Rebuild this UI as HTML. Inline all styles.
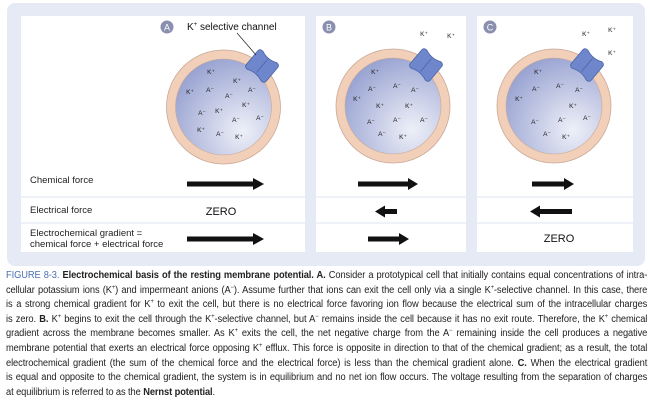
<!DOCTYPE html>
<html><head><meta charset="utf-8"><style>
html,body{margin:0;padding:0;background:#fff;}
body{width:650px;height:402px;position:relative;overflow:hidden;font-family:"Liberation Sans",sans-serif;}
.cap{position:absolute;left:6px;top:269px;width:675px;transform:scaleX(0.95);transform-origin:0 0;font-family:"Liberation Sans",sans-serif;font-size:9.8px;line-height:14.6px;color:#222;letter-spacing:-0.1px}
.cap div{white-space:nowrap;text-align:justify;text-align-last:justify;height:14.6px}
.cap div.l{text-align-last:left}
.cap .fig{color:#4a6fb0}
.cap sup{font-size:6px;line-height:0;vertical-align:4px}
</style></head><body>
<svg width="650" height="270" style="position:absolute;left:0;top:0" font-family="Liberation Sans, sans-serif">
<defs>
<radialGradient id="g" cx="0.7" cy="0.75" r="0.8">
<stop offset="0" stop-color="#eef0f8"/><stop offset="1" stop-color="#9aa4d2"/></radialGradient>
<g id="ch">
<path d="M-13,-9 Q-13,-12 -9,-12 Q0,-8 9,-12 Q13,-12 13,-9 L13,9 Q13,12 9,12 Q0,8 -9,12 Q-13,12 -13,9 Z" fill="#6d86cc" stroke="#4d64a8" stroke-width="0.8"/>
<path d="M0,-8.5 L0,8.5" stroke="#4d64a8" stroke-width="0.8"/>
</g>
</defs>
<rect x="7" y="3" width="638" height="263" rx="8" fill="#e6eaf5"/>
<rect x="21" y="16" width="284" height="236" fill="#fff"/>
<rect x="316" y="16" width="150" height="236" fill="#fff"/>
<rect x="477" y="16" width="156" height="236" fill="#fff"/>
<g stroke="#e6eaf5" stroke-width="1.2">
<line x1="21" y1="197" x2="633" y2="197"/><line x1="21" y1="223" x2="633" y2="223"/></g>
<g>
<circle cx="223.5" cy="107" r="57" fill="#f2cfb8" stroke="#c9a896" stroke-width="0.8"/>
<circle cx="223.5" cy="107" r="48" fill="url(#g)" stroke="#c9a896" stroke-width="0.6"/>
<circle cx="393" cy="106" r="57" fill="#f2cfb8" stroke="#c9a896" stroke-width="0.8"/>
<circle cx="393" cy="106" r="48" fill="url(#g)" stroke="#c9a896" stroke-width="0.6"/>
<circle cx="554" cy="106" r="57" fill="#f2cfb8" stroke="#c9a896" stroke-width="0.8"/>
<circle cx="554" cy="106" r="48" fill="url(#g)" stroke="#c9a896" stroke-width="0.6"/>
</g>
<use href="#ch" transform="translate(262,66) rotate(40)"/>
<use href="#ch" transform="translate(426,65) rotate(40)"/>
<use href="#ch" transform="translate(587,65) rotate(40)"/>
<line x1="237" y1="33" x2="256" y2="55" stroke="#222" stroke-width="0.7"/>
<text x="187" y="30" font-size="10" fill="#111">K<tspan font-size="6" dy="-4">+</tspan><tspan dy="4"> selective channel</tspan></text>
<g fill="#8a8fb0"><circle cx="167" cy="27" r="6.5"/><circle cx="329" cy="27" r="6.5"/><circle cx="490" cy="27" r="6.5"/></g>
<g fill="#fff" font-size="9" text-anchor="middle"><text x="167" y="30.5">A</text><text x="329" y="30.5">B</text><text x="490" y="30.5">C</text></g>
<g font-size="6.5" fill="#222" text-anchor="middle">
<text x="211" y="74">K⁺</text><text x="237" y="83">K⁺</text><text x="190" y="94">K⁺</text><text x="210" y="92">A⁻</text><text x="229" y="98">A⁻</text><text x="252" y="92">A⁻</text><text x="202" y="115">A⁻</text><text x="219" y="113">K⁺</text><text x="246" y="107">K⁺</text><text x="236" y="122">A⁻</text><text x="260" y="120">A⁻</text><text x="201" y="132">K⁺</text><text x="220" y="136">A⁻</text><text x="239" y="139">K⁺</text>
<text x="424" y="36">K⁺</text><text x="451" y="38">K⁺</text>
<text x="375" y="74">K⁺</text><text x="372" y="91">A⁻</text><text x="397" y="88">A⁻</text><text x="415" y="92">A⁻</text><text x="357" y="101">K⁺</text><text x="380" y="108">K⁺</text><text x="409" y="108">K⁺</text><text x="371" y="124">A⁻</text><text x="397" y="122">A⁻</text><text x="424" y="122">A⁻</text><text x="382" y="136">A⁻</text><text x="403" y="139">K⁺</text>
<text x="586" y="36">K⁺</text><text x="612" y="32">K⁺</text><text x="612" y="55">K⁺</text>
<text x="538" y="74">K⁺</text><text x="536" y="91">A⁻</text><text x="560" y="88">A⁻</text><text x="579" y="92">A⁻</text><text x="519" y="101">K⁺</text><text x="573" y="108">K⁺</text><text x="535" y="124">A⁻</text><text x="562" y="122">A⁻</text><text x="587" y="120">A⁻</text><text x="547" y="136">A⁻</text><text x="566" y="139">K⁺</text>
</g>
<g font-size="9.5" fill="#222">
<text x="30" y="183">Chemical force</text>
<text x="30" y="213">Electrical force</text>
<text x="30" y="236">Electrochemical gradient =</text>
<text x="30" y="247">chemical force + electrical force</text>
</g>
<g font-size="11" fill="#111" text-anchor="middle"><text x="221" y="215">ZERO</text><text x="559" y="242">ZERO</text></g>
<g fill="#111">
<path d="M187,181.5 H253 V178 L264,184 L253,190 V186.5 H187Z"/>
<path d="M187,236.5 H253 V233 L264,239 L253,245 V241.5 H187Z"/>
<path d="M358,181.5 H408 V178 L418,184 L408,190 V186.5 H358Z"/>
<path d="M397,209 H385 V205.5 L375,211.5 L385,217.5 V214 H397Z"/>
<path d="M368,236.5 H399 V233 L409,239 L399,245 V241.5 H368Z"/>
<path d="M532,181.5 H564 V178 L574,184 L564,190 V186.5 H532Z"/>
<path d="M572,209 H540 V205.5 L530,211.5 L540,217.5 V214 H572Z"/>
</g>
</svg>
<div class="cap">
<div><span class="fig">FIGURE 8-3.</span> <b>Electrochemical basis of the resting membrane potential. A.</b> Consider a prototypical cell that initially contains equal concentrations of intra-</div>
<div>cellular potassium ions (K<sup>+</sup>) and impermeant anions (A<sup>−</sup>). Assume further that ions can exit the cell only via a single K<sup>+</sup>-selective channel. In this case, there</div>
<div>is a strong chemical gradient for K<sup>+</sup> to exit the cell, but there is no electrical force favoring ion flow because the electrical sum of the intracellular charges</div>
<div>is zero. <b>B.</b> K<sup>+</sup> begins to exit the cell through the K<sup>+</sup>-selective channel, but A<sup>−</sup> remains inside the cell because it has no exit route. Therefore, the K<sup>+</sup> chemical</div>
<div>gradient across the membrane becomes smaller. As K<sup>+</sup> exits the cell, the net negative charge from the A<sup>−</sup> remaining inside the cell produces a negative</div>
<div>membrane potential that exerts an electrical force opposing K<sup>+</sup> efflux. This force is opposite in direction to that of the chemical gradient; as a result, the total</div>
<div>electrochemical gradient (the sum of the chemical force and the electrical force) is less than the chemical gradient alone. <b>C.</b> When the electrical gradient</div>
<div>is equal and opposite to the chemical gradient, the system is in equilibrium and no net ion flow occurs. The voltage resulting from the separation of charges</div>
<div class="l">at equilibrium is referred to as the <b>Nernst potential</b>.</div>
</div>
</body></html>
